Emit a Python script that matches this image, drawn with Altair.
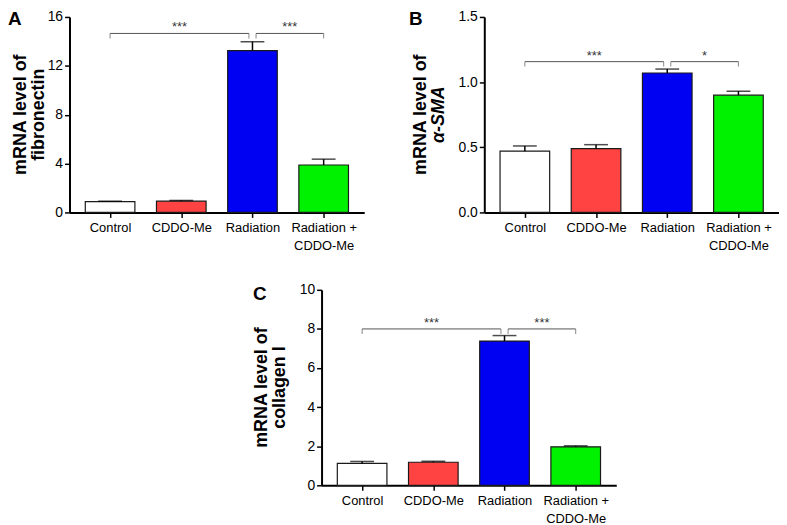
import json
import altair as alt
import pandas as pd

# ---------------- data ----------------
categories = ["Control", "CDDO-Me", "Radiation", "Radiation + CDDO-Me"]
label_lines = [["Control"], ["CDDO-Me"], ["Radiation"], ["Radiation +", "CDDO-Me"]]
bar_colors = ["#FFFFFF", "#FF4242", "#0000F2", "#00F200"]

fib_mean = [0.88, 0.92, 13.25, 3.88]
fib_err = [0.04, 0.06, 0.72, 0.48]
sma_mean = [0.47, 0.49, 1.07, 0.90]
sma_err = [0.04, 0.03, 0.03, 0.03]
col_mean = [1.12, 1.18, 7.38, 1.97]
col_err = [0.10, 0.05, 0.28, 0.05]

fib_ticks = [0, 4, 8, 12, 16]
sma_ticks = [0, 0.5, 1.0, 1.5]
col_ticks = [0, 2, 4, 6, 8, 10]

# significance brackets: (from category, to category, label, height)
fib_brackets = [("Control", "Radiation", "***", 14.65), ("Radiation", "Radiation + CDDO-Me", "***", 14.65)]
sma_brackets = [("Control", "Radiation", "***", 1.157), ("Radiation", "Radiation + CDDO-Me", "*", 1.157)]
col_brackets = [("Control", "Radiation", "***", 8.0), ("Radiation", "Radiation + CDDO-Me", "***", 8.0)]

FONT = "Liberation Sans"
W, H = 297, 197
GAP = 0.05  # gap (in category units) where two brackets meet


def panel(means, errs, ticks, fmt, ymax, brackets, letter, letter_x, letter_y,
          title1, title2, t1x, t2x, italic2=False):
    idx = list(range(len(categories)))
    df = pd.DataFrame({
        "idx": idx,
        "cat": categories,
        "mean": means,
        "upper": [m + e for m, e in zip(means, errs)],
        "color": bar_colors,
    })
    xscale = alt.Scale(domain=[-0.5, len(categories) - 0.5], nice=False, zero=False)
    yscale = alt.Scale(domain=[0, ymax], nice=False)
    xaxis = alt.Axis(values=idx, tickCount=len(idx), labelExpr=json.dumps(label_lines) + "[datum.value]",
                     title=None, grid=False, labelFontSize=13, labelPadding=4,
                     labelLineHeight=18, labelBaseline="top", labelAngle=0,
                     labelOverlap=False)
    yaxis = alt.Axis(values=ticks, tickCount=len(ticks), format=fmt, title=None, grid=False,
                     labelFontSize=14, labelPadding=2, labelOverlap=False)

    base = alt.Chart(df)
    bars = base.mark_bar(size=50, stroke="#1a1a1a", strokeWidth=1.2).encode(
        x=alt.X("idx:Q", scale=xscale, axis=xaxis),
        y=alt.Y("mean:Q", scale=yscale, axis=yaxis),
        fill=alt.Fill("color:N", scale=None),
    )
    err = base.mark_rule(color="black", strokeWidth=1.5).encode(
        x="idx:Q", y="mean:Q", y2="upper:Q")
    cap = base.mark_tick(orient="horizontal", size=24, thickness=1.5, color="black").encode(
        x="idx:Q", y="upper:Q")

    # brackets
    ends = [c for b in brackets for c in (b[0], b[1])]
    rows = []
    for a, b, lab, h in brackets:
        xa = categories.index(a)
        xb = categories.index(b)
        if ends.count(a) > 1:
            xa += GAP
        if ends.count(b) > 1:
            xb -= GAP
        rows.append({"x1": xa, "x2": xb, "xm": (xa + xb) / 2, "h": h, "lab": lab})
    bdf = pd.DataFrame(rows)
    bbase = alt.Chart(bdf)
    hline = bbase.mark_rule(color="#555555", strokeWidth=1).encode(
        x="x1:Q", x2="x2:Q", y="h:Q")
    tick1 = bbase.mark_tick(orient="vertical", size=5, thickness=1, color="#555555", yOffset=2.5).encode(
        x="x1:Q", y="h:Q")
    tick2 = bbase.mark_tick(orient="vertical", size=5, thickness=1, color="#555555", yOffset=2.5).encode(
        x="x2:Q", y="h:Q")
    stars = bbase.mark_text(font=FONT, fontSize=13, color="#333333", baseline="alphabetic", dy=-2).encode(
        x="xm:Q", y="h:Q", text="lab:N")

    # panel letter and y title
    lt = alt.Chart(pd.DataFrame({"t": [letter]})).mark_text(
        font=FONT, fontSize=19, fontWeight="bold", align="left", baseline="top", color="black"
    ).encode(text="t:N", x=alt.value(letter_x), y=alt.value(letter_y))
    tt1 = alt.Chart(pd.DataFrame({"t": [title1]})).mark_text(
        font=FONT, fontSize=18, fontWeight="bold", angle=270, align="center",
        baseline="alphabetic", color="black"
    ).encode(text="t:N", x=alt.value(t1x), y=alt.value(H / 2))
    tt2 = alt.Chart(pd.DataFrame({"t": [title2]})).mark_text(
        font=FONT, fontSize=18, fontWeight="bold", angle=270, align="center",
        baseline="alphabetic", color="black", fontStyle="italic" if italic2 else "normal"
    ).encode(text="t:N", x=alt.value(t2x), y=alt.value(H / 2))

    return alt.layer(bars, err, cap, hline, tick1, tick2, stars, lt, tt1, tt2).properties(
        width=W, height=H)


A = panel(fib_mean, fib_err, fib_ticks, "d", 16, fib_brackets, "A", -62, -7,
          "mRNA level of", "fibronectin", -44, -26)
B = panel(sma_mean, sma_err, sma_ticks, ".1f", 1.5, sma_brackets, "B", -76, -7,
          "mRNA level of", "α-SMA", -59, -41, italic2=True)
C = panel(col_mean, col_err, col_ticks, "d", 10, col_brackets, "C", -69, -5,
          "mRNA level of", "collagen I", -55, -37)

SPACER_W = 185
spacer = alt.Chart(pd.DataFrame({"t": [0]})).mark_rule(opacity=0, strokeWidth=0).encode(
    x=alt.value(0), x2=alt.value(SPACER_W), y=alt.value(5)).properties(width=SPACER_W, height=10)

top = alt.hconcat(A, B, spacing=45)
bottom = alt.hconcat(spacer, C, spacing=0)
chart = alt.vconcat(top, bottom, spacing=31).properties(
    padding={"left": 0, "top": 0, "right": 0, "bottom": 0}
).configure_view(stroke=None).configure_axis(
    domainColor="black", domainWidth=2, tickColor="black", tickWidth=1.5, tickSize=5,
    labelFont=FONT, labelColor="black", titleFont=FONT
).configure_text(font=FONT)

chart.save("out.html", embed_options={"renderer": "svg", "actions": False})
